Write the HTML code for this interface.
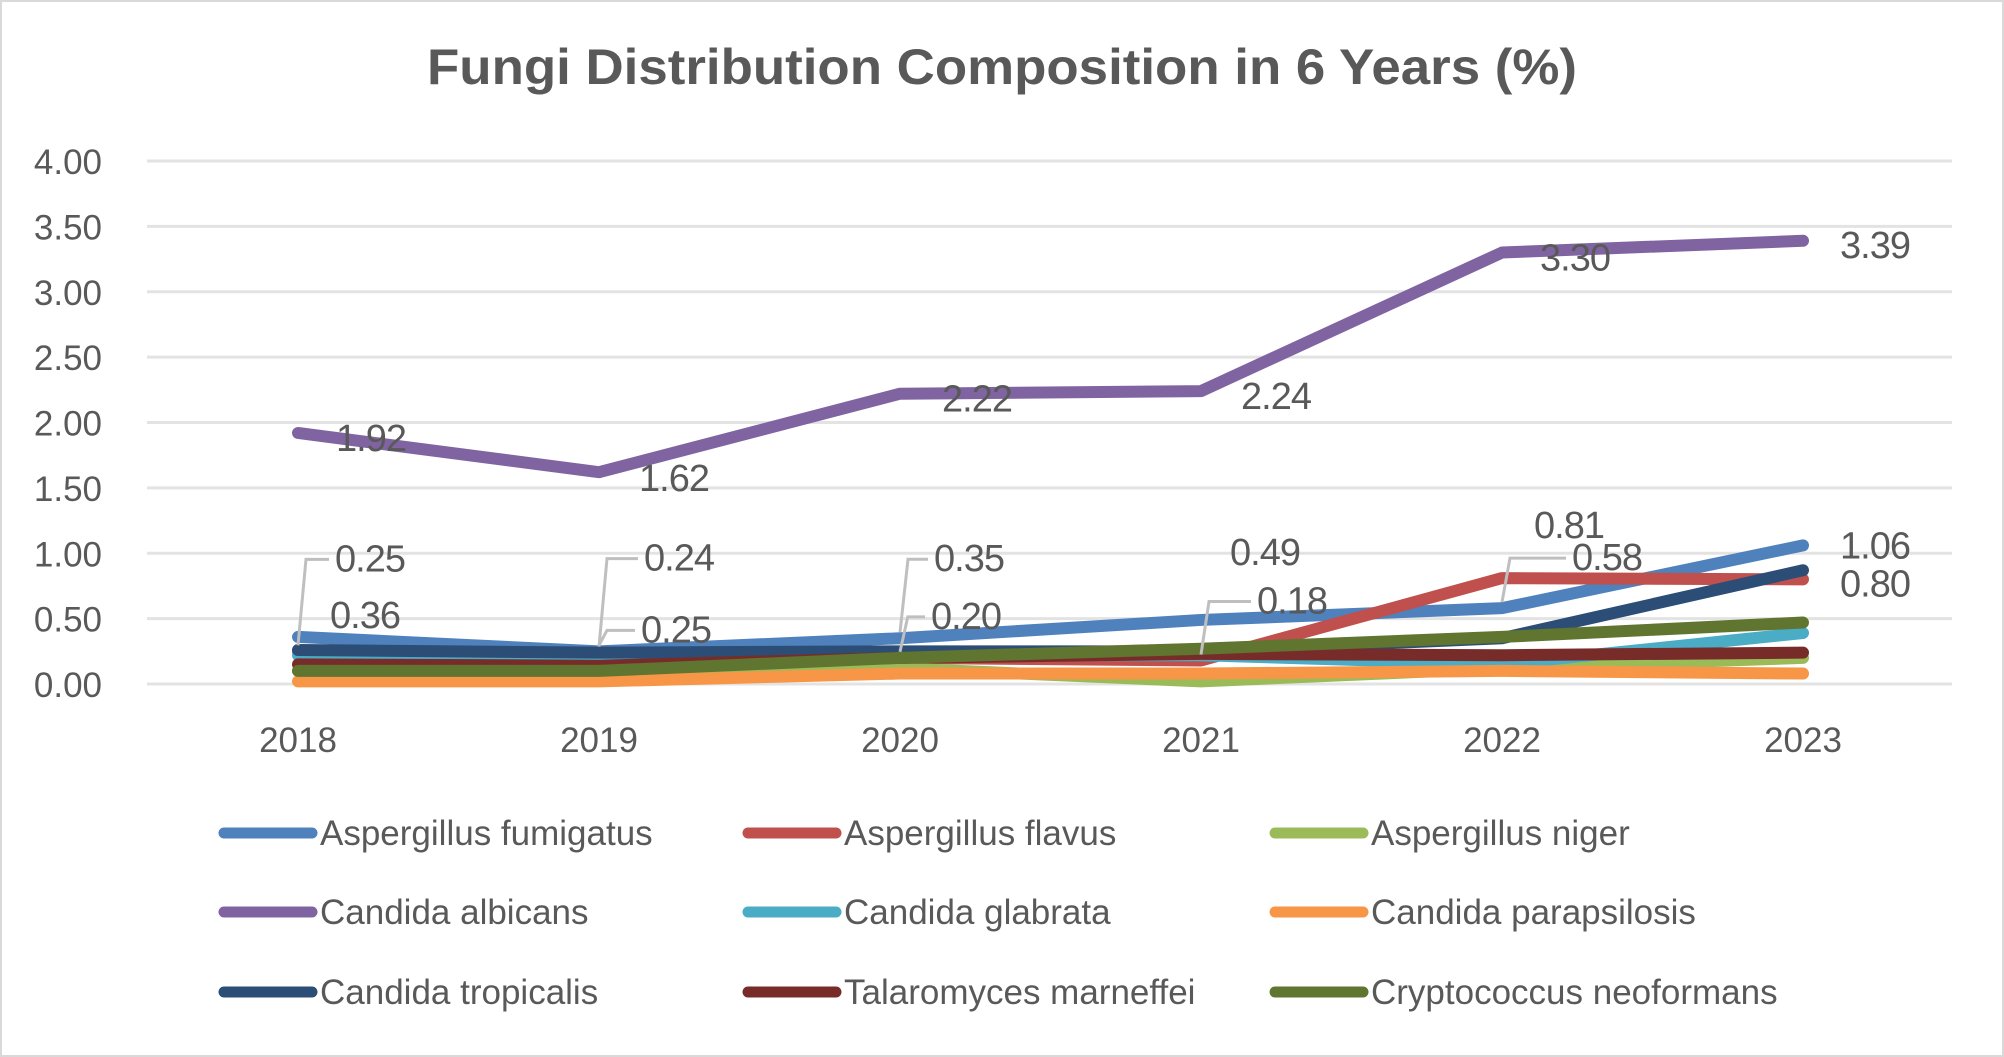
<!DOCTYPE html>
<html><head><meta charset="utf-8"><style>
html,body{margin:0;padding:0;background:#fff;}
svg{display:block;font-family:"Liberation Sans",sans-serif;}
</style></head><body>
<svg id="chart" width="2004" height="1057" viewBox="0 0 2004 1057">
<rect x="1" y="1" width="2002" height="1055" fill="#fff" stroke="#d9d9d9" stroke-width="2"/>
<text x="1002" y="84" text-anchor="middle" font-size="50" font-weight="bold" fill="#595959" textLength="1150" lengthAdjust="spacingAndGlyphs">Fungi Distribution Composition in 6 Years (%)</text>
<g id="grid"></g><g id="series"></g><g id="labels"></g><g id="legend"></g>
</svg>
<script>
const years = ["2018","2019","2020","2021","2022","2023"];
const yTicks = [0,0.5,1,1.5,2,2.5,3,3.5,4];
const seriesNames = ["Aspergillus fumigatus","Aspergillus flavus","Aspergillus niger","Candida albicans","Candida glabrata","Candida parapsilosis","Candida tropicalis","Talaromyces marneffei","Cryptococcus neoformans"];
const fumigatus = [0.36,0.25,0.35,0.49,0.58,1.06];
const flavus = [0.25,0.24,0.20,0.18,0.81,0.80];
const niger = [0.10,0.08,0.12,0.02,0.12,0.20];
const albicans = [1.92,1.62,2.22,2.24,3.30,3.39];
const glabrata = [0.22,0.20,0.22,0.22,0.15,0.39];
const parapsilosis = [0.02,0.02,0.08,0.08,0.10,0.08];
const tropicalis = [0.26,0.24,0.25,0.25,0.35,0.87];
const marneffei = [0.15,0.14,0.20,0.23,0.22,0.24];
const cryptococcus = [0.10,0.10,0.20,0.27,0.36,0.47];
const seriesValues = [fumigatus,flavus,niger,albicans,glabrata,parapsilosis,tropicalis,marneffei,cryptococcus];
const colors = ["#4F81BD","#C0504D","#9BBB59","#8064A2","#4BACC6","#F79646","#2C4D75","#772C2A","#5F7530"];
const NS="http://www.w3.org/2000/svg";
const x0=298, xStep=301, y0=684, yScale=130.75;
const xs=i=>x0+i*xStep, ys=v=>y0-v*yScale;
function mk(tag,attrs,parent,txt){const e=document.createElementNS(NS,tag);for(const k in attrs)e.setAttribute(k,attrs[k]);if(txt!==undefined)e.textContent=txt;parent.appendChild(e);return e;}
const grid=document.getElementById('grid');
yTicks.forEach(t=>{
  const l=mk('line',{x1:147,x2:1952,y1:ys(t),y2:ys(t),stroke:"#e3e3e3","stroke-width":3},grid);
  
  
  const tx=mk('text',{x:102,y:ys(t)+13,"text-anchor":"end","font-size":35,fill:"#595959"},grid,t.toFixed(2));
  
  
});
years.forEach((y,i)=>{
  const tx=mk('text',{x:xs(i),y:752,"text-anchor":"middle","font-size":35,fill:"#595959"},grid,y);
  
  
});
const sg=document.getElementById('series');
seriesValues.forEach((vals,s)=>{
  const p=mk('polyline',{points:vals.map((v,i)=>xs(i)+","+ys(v)).join(" "),fill:"none",stroke:colors[s],"stroke-width":12,"stroke-linecap":"round","stroke-linejoin":"round"},sg);
  
  
});
// data labels: [seriesIndex, pointIndex, dx, dy, leader]
const labelSpecs=[
 [3,0,38,18,0],[3,1,40,19,0],[3,2,42,18,0],[3,3,40,18,0],[3,4,38,18,0],[3,5,37,17,0],
 [0,0,32,-9,0],[0,1,42,-9,1],[0,2,34,-67,1],[0,3,29,-55,0],[0,4,70,-38,1],[0,5,37,13,0],
 [1,0,37,-80,1],[1,1,45,-82,1],[1,2,31,-29,1],[1,3,56,-47,1],[1,4,32,-40,0],[1,5,37,17,0]
];
const lg=document.getElementById('labels');
labelSpecs.forEach(([s,i,dx,dy,ld])=>{
  const px=xs(i), py=ys(seriesValues[s][i]);
  if(ld){
    const lx=px+dx-6, ly=py+dy-12;
    const l=mk('polyline',{points:`${px},${py-6} ${px+Math.min(8,dx/4)},${ly} ${lx},${ly}`,fill:"none",stroke:"#bfbfbf","stroke-width":3},lg);
    
    
  }
  const t=mk('text',{x:px+dx,y:py+dy,"font-size":38,fill:"#595959","letter-spacing":"-1"},lg,seriesValues[s][i].toFixed(2));
  
  
});
const leg=document.getElementById('legend');
const colX=[224,748,1275], rowY=[833,912,992];
seriesNames.forEach((n,k)=>{
  const cx=colX[k%3], cy=rowY[Math.floor(k/3)];
  const g=mk('g',{},leg);
  
  
  mk('line',{x1:cx,x2:cx+88,y1:cy,y2:cy,stroke:colors[k],"stroke-width":11,"stroke-linecap":"round"},g);
  mk('text',{x:cx+96,y:cy+12,"font-size":35,fill:"#595959"},g,n);
});
</script>
</body></html>
